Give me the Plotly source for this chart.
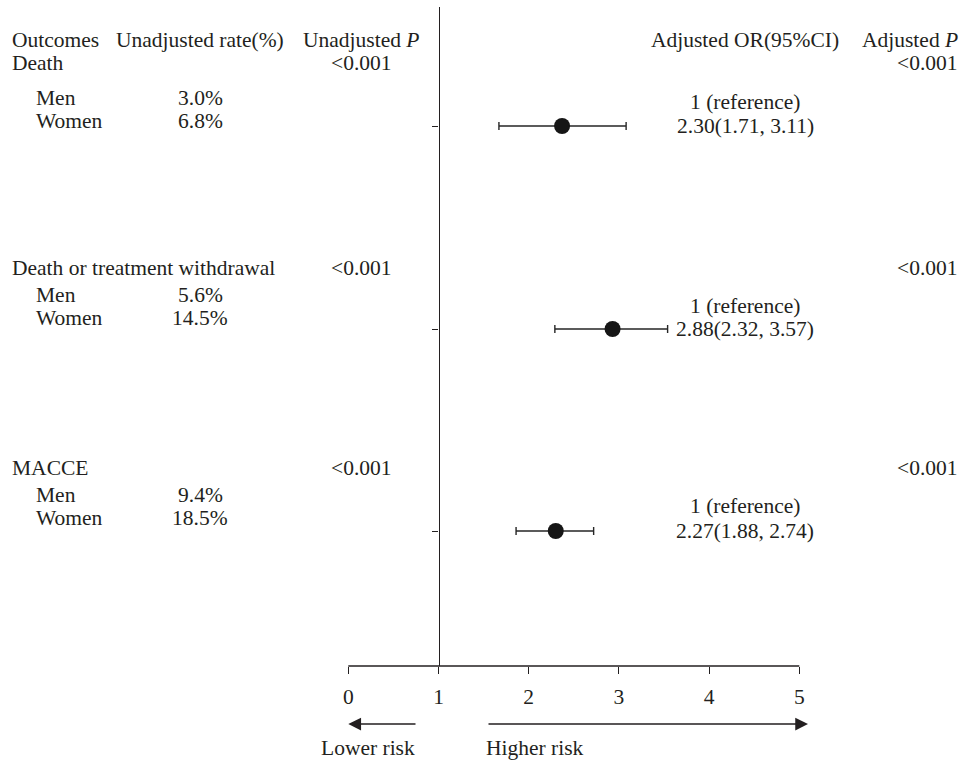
import plotly.graph_objects as go

# ---------------- data ----------------
outcomes = ["Death", "Death or treatment withdrawal", "MACCE"]
sex_labels = ["Men", "Women"]
rate_men = ["3.0%", "5.6%", "9.4%"]
rate_women = ["6.8%", "14.5%", "18.5%"]
p_unadjusted = ["<0.001", "<0.001", "<0.001"]
or_ref_label = "1 (reference)"
or_women_label = ["2.30(1.71, 3.11)", "2.88(2.32, 3.57)", "2.27(1.88, 2.74)"]
p_adjusted = ["<0.001", "<0.001", "<0.001"]
# plotted estimates (as drawn in the figure)
or_est = [2.37, 2.93, 2.30]
or_lo = [1.67, 2.29, 1.86]
or_hi = [3.08, 3.54, 2.72]
x_tick_vals = [0, 1, 2, 3, 4, 5]
header_labels = ["Outcomes", "Unadjusted rate(%)", "Unadjusted <i>P</i>",
                 "Adjusted OR(95%CI)", "Adjusted <i>P</i>"]
direction_labels = ["Lower risk", "Higher risk"]

# ---------------- layout constants (screen pixels) ----------------
W, H = 962, 760
X0_PX, UNIT = 348.3, 90.2    # screen pixel of x=0 and pixels per unit
TOP, AXIS_Y = 7, 666         # plot area top / bottom (screen pixels)
FONT = "Liberation Serif"
FS = 21.5
TXT = "#231f20"

group_title_y = [63, 268, 468]
men_y = [98, 295, 495]
women_y = [121, 318, 518]
ref_y = [102, 306, 506]
marker_y = [126, 329, 531]

def px2x(px):
    return (px - X0_PX) / UNIT

def px2paper(px):
    return px / W

def py2paper(py):
    return (AXIS_Y - py) / (AXIS_Y - TOP)

fig = go.Figure()

fig.add_trace(go.Scatter(
    x=or_est, y=marker_y, mode="markers",
    marker=dict(size=16, color="#161616"),
    error_x=dict(type="data", symmetric=False,
                 array=[h - e for h, e in zip(or_hi, or_est)],
                 arrayminus=[e - l for e, l in zip(or_est, or_lo)],
                 color="#262626", thickness=1.4, width=4),
    showlegend=False, hoverinfo="skip", cliponaxis=False))

ann = []

def text(px, py, s, anchor="left"):
    ann.append(dict(x=px2paper(px), xref="paper", y=py2paper(py), yref="paper",
                    text=s, showarrow=False, xanchor=anchor, yanchor="middle",
                    font=dict(family=FONT, size=FS, color=TXT)))

# header
text(10, 40, header_labels[0], "left")
text(199.5, 40, header_labels[1], "center")
text(361, 40, header_labels[2], "center")
text(745, 40, header_labels[3], "center")
text(960, 40, header_labels[4], "right")

for i, name in enumerate(outcomes):
    text(10, group_title_y[i], name, "left")
    text(361, group_title_y[i], p_unadjusted[i], "center")
    text(960, group_title_y[i], p_adjusted[i], "right")
    text(34, men_y[i], sex_labels[0], "left")
    text(34, women_y[i], sex_labels[1], "left")
    text(200, men_y[i], rate_men[i], "center")
    text(200, women_y[i], rate_women[i], "center")
    text(745, ref_y[i], or_ref_label, "center")
    text(745, marker_y[i], or_women_label[i], "center")

# direction arrows (tip position + tail offset in pixels)
arrow_y = 724
for tip, tail in [(348.3, 417), (808, 487)]:
    ann.append(dict(x=px2paper(tip), y=py2paper(arrow_y), xref="paper", yref="paper",
                    ax=tail - tip, ay=0, axref="pixel", ayref="pixel",
                    text="", showarrow=True, arrowhead=2, arrowsize=1.7,
                    arrowwidth=1.5, arrowcolor=TXT))
text(368, 748, direction_labels[0], "center")
text(535, 748, direction_labels[1], "center")

fig.update_layout(
    width=W, height=H,
    margin=dict(l=0, r=0, t=TOP, b=H - AXIS_Y, pad=0),
    paper_bgcolor="white", plot_bgcolor="white",
    annotations=ann,
    shapes=[dict(type="line", xref="x", yref="paper", x0=x_tick_vals[0],
                 x1=x_tick_vals[-1], y0=0, y1=0,
                 line=dict(color=TXT, width=1.4))],
    xaxis=dict(range=[px2x(0), px2x(W)], showgrid=False, zeroline=False,
               showline=False, tickvals=x_tick_vals, ticks="outside",
               ticklen=7, tickwidth=1.4, tickcolor=TXT,
               ticklabelstandoff=4,
               tickfont=dict(family=FONT, size=FS, color=TXT)),
    yaxis=dict(range=[AXIS_Y, TOP], showgrid=False, zeroline=False,
               anchor="free", position=px2paper(X0_PX + UNIT),
               showline=True, linecolor=TXT, linewidth=1.4,
               ticks="outside", ticklen=6, tickwidth=1.2,
               tickcolor=TXT, tickvals=marker_y,
               showticklabels=False),
)

fig.write_html(
    "out.html",
    config={"displayModeBar": False},
    post_script="document.body.style.margin='0';document.body.style.overflow='hidden';",
)
